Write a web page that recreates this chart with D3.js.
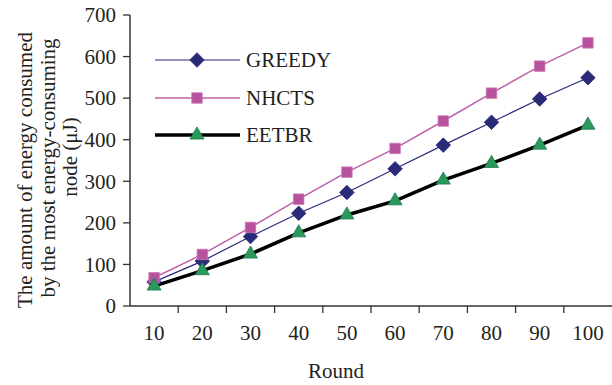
<!DOCTYPE html>
<html><head><meta charset="utf-8">
<script src="https://cdn.jsdelivr.net/npm/d3@7"></script>
<style>body{margin:0;background:#fff}svg{display:block}text{font-family:"Liberation Serif","Times New Roman",serif;fill:#231f20}</style>
</head><body>
<script>
const rounds = [10,20,30,40,50,60,70,80,90,100];
const greedy = [58,108,167,223,273,330,387,442,498,549];
const nhcts  = [68,124,189,257,322,379,445,512,577,633];
const eetbr  = [48,85,125,176,219,253,303,343,387,435];
const yTicks = [0,100,200,300,400,500,600,700];
const seriesNames = ["GREEDY","NHCTS","EETBR"];

const W=612,H=385;
const svg=d3.select("body").append("svg").attr("width",W).attr("height",H);
const x=d3.scaleBand().domain(rounds).range([130,612]).padding(0);
const y=d3.scaleLinear().domain([0,700]).range([306,15]);
const fs=21;

// axes
const xa=svg.append("g").attr("transform","translate(0,306)");
xa.append("line").attr("x1",130).attr("x2",612).attr("stroke","#333").attr("stroke-width",1.5);
const bounds=rounds.map(r=>x(r)).slice(1);
xa.selectAll("line.t").data(bounds).join("line").attr("class","t")
  .attr("x1",d=>d).attr("x2",d=>d).attr("y1",0).attr("y2",7).attr("stroke","#333").attr("stroke-width",1.3);
xa.selectAll("text").data(rounds).join("text")
  .attr("x",d=>x(d)+x.bandwidth()/2).attr("y",34).attr("text-anchor","middle").attr("font-size",fs).text(d=>d);

const ya=svg.append("g");
ya.append("line").attr("x1",130).attr("x2",130).attr("y1",y(0)).attr("y2",y(700)).attr("stroke","#333").attr("stroke-width",1.5);
ya.selectAll("line.t").data(yTicks).join("line").attr("class","t")
  .attr("x1",123).attr("x2",130).attr("y1",d=>y(d)).attr("y2",d=>y(d)).attr("stroke","#333").attr("stroke-width",1.3);
ya.selectAll("text").data(yTicks).join("text")
  .attr("x",116).attr("y",d=>y(d)).attr("dy","0.35em").attr("text-anchor","end").attr("font-size",fs).text(d=>d);

svg.append("text").attr("x",336).attr("y",378).attr("text-anchor","middle").attr("font-size",fs).text("Round");
const yl=["The amount of energy consumed","by the most energy-consuming","node (μJ)"];
const ylc=[170,168,157];
yl.forEach((t,i)=>svg.append("text").attr("transform",`translate(${25+i*22.5},${ylc[i]}) rotate(-90)`)
  .attr("text-anchor","middle").attr("dy","0.35em").attr("font-size",fs).text(t));

const cx=d=>x(d)+x.bandwidth()/2;
const defs=[
 {name:seriesNames[0],vals:greedy,color:"#2a2a78",lw:1.2,sym:d3.symbolDiamond2,size:135,fill:"#2a2a78",stroke:"#2a2a78"},
 {name:seriesNames[1],vals:nhcts,color:"#c060a8",lw:1.5,sym:d3.symbolSquare2,size:140,fill:"#b8529e",stroke:"#c978b5"},
 {name:seriesNames[2],vals:eetbr,color:"#000",lw:3.5,sym:d3.symbolTriangle2,size:140,fill:"#2a9a5c",stroke:"#1d7a45"}
];
const line=d3.line().x((d,i)=>cx(rounds[i])).y(d=>y(d));
defs.forEach(s=>{
  svg.append("path").datum(s.vals).attr("d",line).attr("fill","none").attr("stroke",s.color).attr("stroke-width",s.lw);
});
defs.forEach(s=>{
  svg.selectAll(null).data(s.vals).join("path")
    .attr("transform",(d,i)=>`translate(${cx(rounds[i])},${y(d)})`)
    .attr("d",d3.symbol(s.sym,s.size)).attr("fill",s.fill).attr("stroke",s.stroke).attr("stroke-width",0.8);
});
// legend
const ly=[60,98,135];
defs.forEach((s,i)=>{
  const g=svg.append("g");
  g.append("line").attr("x1",155).attr("x2",240).attr("y1",ly[i]).attr("y2",ly[i]).attr("stroke",s.color).attr("stroke-width",s.lw);
  g.append("path").attr("transform",`translate(197,${ly[i]})`).attr("d",d3.symbol(s.sym,s.size)).attr("fill",s.fill).attr("stroke",s.stroke).attr("stroke-width",0.8);
  g.append("text").attr("x",246).attr("y",ly[i]).attr("dy","0.35em").attr("font-size",fs).text(s.name);
});
</script>
</body></html>
